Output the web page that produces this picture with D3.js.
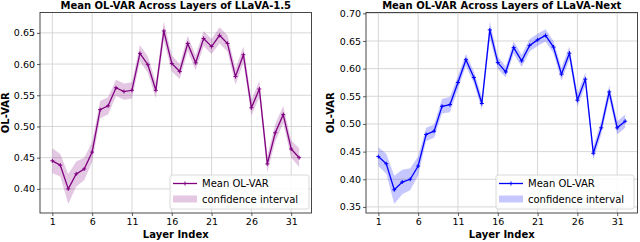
<!DOCTYPE html>
<html><head><meta charset="utf-8">
<script src="https://cdn.jsdelivr.net/npm/d3@7"></script>
<style>
body{margin:0;background:#fff;}
svg{display:block;font-family:"DejaVu Sans",sans-serif;}
</style></head>
<body>
<svg id="c" width="640" height="242"></svg>
<script>
const layers = d3.range(1, 33);
const xTicks = [1, 6, 11, 16, 21, 26, 31];

const titleA = "Mean OL-VAR Across Layers of LLaVA-1.5";
const meanA = [0.445,0.438,0.400,0.424,0.432,0.459,0.527,0.533,0.562,0.556,0.558,0.617,0.599,0.558,0.653,0.601,0.588,0.633,0.602,0.641,0.628,0.646,0.633,0.580,0.615,0.530,0.560,0.440,0.490,0.519,0.464,0.450];
const ciA = [0.020,0.018,0.024,0.020,0.018,0.016,0.014,0.014,0.013,0.013,0.013,0.013,0.013,0.013,0.015,0.013,0.012,0.012,0.012,0.012,0.012,0.013,0.013,0.013,0.013,0.013,0.013,0.013,0.014,0.014,0.014,0.015];
const yTicksA = [0.40,0.45,0.50,0.55,0.60,0.65];

const titleB = "Mean OL-VAR Across Layers of LLaVA-Next";
const meanB = [0.441,0.428,0.381,0.395,0.400,0.424,0.481,0.487,0.532,0.535,0.575,0.616,0.584,0.537,0.670,0.611,0.594,0.638,0.614,0.642,0.652,0.660,0.639,0.590,0.628,0.543,0.581,0.447,0.493,0.558,0.493,0.505];
const ciB = [0.017,0.018,0.0255,0.022,0.020,0.017,0.012,0.012,0.013,0.014,0.012,0.011,0.011,0.012,0.015,0.011,0.010,0.011,0.011,0.011,0.011,0.011,0.011,0.012,0.012,0.012,0.012,0.012,0.012,0.012,0.012,0.012];
const yTicksB = [0.35,0.40,0.45,0.50,0.55,0.60,0.65,0.70];

const legendLabels = ["Mean OL-VAR", "confidence interval"];
const xLabel = "Layer Index";
const yLabel = "OL-VAR";

const svg = d3.select("#c");

function panel(cfg){
  const {left,right,top,bottom,title,mean,ci,yTicks,color,band,ylabX,legX,legW} = cfg;
  const g = svg.append("g");
  const x = d3.scaleLinear().domain([1 - 31*0.05, 32 + 31*0.05]).range([left, right]);
  const lo = d3.min(mean, (d,i)=>d-ci[i]), hi = d3.max(mean, (d,i)=>d+ci[i]);
  const r = hi - lo;
  const y = d3.scaleLinear().domain([lo - 0.05*r, hi + 0.05*r]).range([bottom, top]);

  // grid
  g.append("g").selectAll("line").data(xTicks).join("line")
    .attr("x1", d=>x(d)).attr("x2", d=>x(d)).attr("y1", top).attr("y2", bottom)
    .attr("stroke", "#d2d2d2").attr("stroke-width", 0.9);
  g.append("g").selectAll("line").data(yTicks).join("line")
    .attr("y1", d=>y(d)).attr("y2", d=>y(d)).attr("x1", left).attr("x2", right)
    .attr("stroke", "#d2d2d2").attr("stroke-width", 0.9);

  // band
  const area = d3.area().x((d,i)=>x(layers[i])).y0((d,i)=>y(d-ci[i])).y1((d,i)=>y(d+ci[i]));
  g.append("path").datum(mean).attr("d", area).attr("fill", band).attr("fill-opacity", 0.22);

  // line
  const line = d3.line().x((d,i)=>x(layers[i])).y(d=>y(d));
  g.append("path").datum(mean).attr("d", line).attr("fill","none").attr("stroke", color).attr("stroke-width", 1.3);
  const s = 2;
  g.append("g").selectAll("path").data(mean).join("path")
    .attr("d", (d,i)=>{const cx=x(layers[i]), cy=y(d); return `M${cx-s},${cy}H${cx+s}M${cx},${cy-s}V${cy+s}`;})
    .attr("stroke", color).attr("stroke-width", 1);

  // axes
  const xa = g.append("g").attr("transform", `translate(0,${bottom})`)
    .call(d3.axisBottom(x).tickValues(xTicks).tickFormat(d3.format("d")).tickSize(3).tickPadding(2));
  const ya = g.append("g").attr("transform", `translate(${left},0)`)
    .call(d3.axisLeft(y).tickValues(yTicks).tickFormat(d3.format(".2f")).tickSize(3).tickPadding(2));
  [xa, ya].forEach(a=>{
    a.select(".domain").remove();
    a.selectAll("text").attr("font-size", 9.5).attr("fill", "#000").attr("font-family","DejaVu Sans");
    a.selectAll("line").attr("stroke", "#333").attr("stroke-width", 0.8);
  });
  g.append("rect").attr("x", left).attr("y", top).attr("width", right-left).attr("height", bottom-top)
    .attr("fill","none").attr("stroke","#333").attr("stroke-width", 0.9);

  // title & labels
  g.append("text").attr("x", (left+right)/2).attr("y", 9).attr("text-anchor","middle")
    .attr("font-size", 10).attr("font-weight","bold").text(title);
  g.append("text").attr("x", (left+right)/2).attr("y", 238).attr("text-anchor","middle")
    .attr("font-size", 10).attr("font-weight","bold").text(xLabel);
  g.append("text").attr("transform", `translate(${ylabX},${(top+bottom)/2}) rotate(-90)`)
    .attr("text-anchor","middle").attr("font-size", 10).attr("font-weight","bold").text(yLabel);

  // legend
  const lg = g.append("g").attr("transform", `translate(${legX},175)`);
  lg.append("rect").attr("width", legW).attr("height", 34).attr("rx", 2)
    .attr("fill", "#fff").attr("fill-opacity", 0.85).attr("stroke", "#d0d0d0").attr("stroke-width", 0.8);
  lg.append("line").attr("x1", 3).attr("x2", 27).attr("y1", 8.5).attr("y2", 8.5).attr("stroke", color).attr("stroke-width", 1.3);
  lg.append("path").attr("d", `M${15-s},8.5H${15+s}M15,${8.5-s}V${8.5+s}`).attr("stroke", color).attr("stroke-width", 1);
  lg.append("rect").attr("x", 3).attr("y", 20.5).attr("width", 24).attr("height", 7)
    .attr("fill", band).attr("fill-opacity", 0.22);
  lg.selectAll("text.lab").data(legendLabels).join("text").attr("class","lab")
    .attr("x", 32).attr("y", (d,i)=>12.2 + i*16).attr("font-size", 10).text(d=>d);
}

panel({left:40, right:311.5, top:12.5, bottom:213, title:titleA, mean:meanA, ci:ciA, yTicks:yTicksA,
  color:"#800080", band:"#800080", ylabX:9, legX:170, legW:139});
panel({left:366, right:637.5, top:12.5, bottom:213, title:titleB, mean:meanB, ci:ciB, yTicks:yTicksB,
  color:"#0000ff", band:"#0000ff", ylabX:334, legX:496, legW:138});
</script>
</body></html>
